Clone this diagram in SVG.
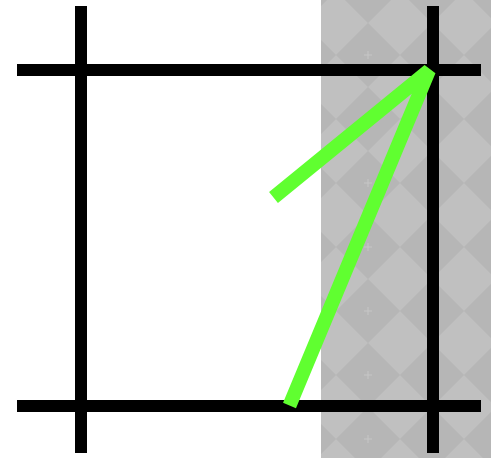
<svg xmlns="http://www.w3.org/2000/svg" width="491" height="458" viewBox="0 0 491 458">
  <defs>
    <pattern id="diam" patternUnits="userSpaceOnUse" x="336" y="279" width="64" height="64">
      <rect width="64" height="64" fill="#c0c0c0"/>
      <polygon points="32,0 64,32 32,64 0,32" fill="#b6b6b6"/>
      <path d="M32,0 L64,32 L32,64 L0,32 Z" fill="none" stroke="#bababa" stroke-width="1"/>
      <path d="M28,32 H36 M32,28 V36" stroke="#c6c6c6" stroke-width="1"/>
    </pattern>
    <style>
      .grid { stroke: #000; stroke-width: 12; fill: none; }
      .green { stroke: #60ff30; stroke-width: 14; fill: none; stroke-linejoin: bevel; }
    </style>
  </defs>
  <rect width="491" height="458" fill="#ffffff"/>
  <g id="background">
    <rect x="321" y="0" width="170" height="458" fill="url(#diam)"/>
  </g>
  <g id="grid">
    <line class="grid" x1="81" y1="6" x2="81" y2="453"/>
    <line class="grid" x1="433" y1="6" x2="433" y2="453"/>
    <line class="grid" x1="17" y1="70" x2="481" y2="70"/>
    <line class="grid" x1="17" y1="406" x2="481" y2="406"/>
  </g>
  <g id="connectors">
    <polyline class="green" points="273.5,197.5 429,70.5 289.5,405.5"/>
  </g>
</svg>
